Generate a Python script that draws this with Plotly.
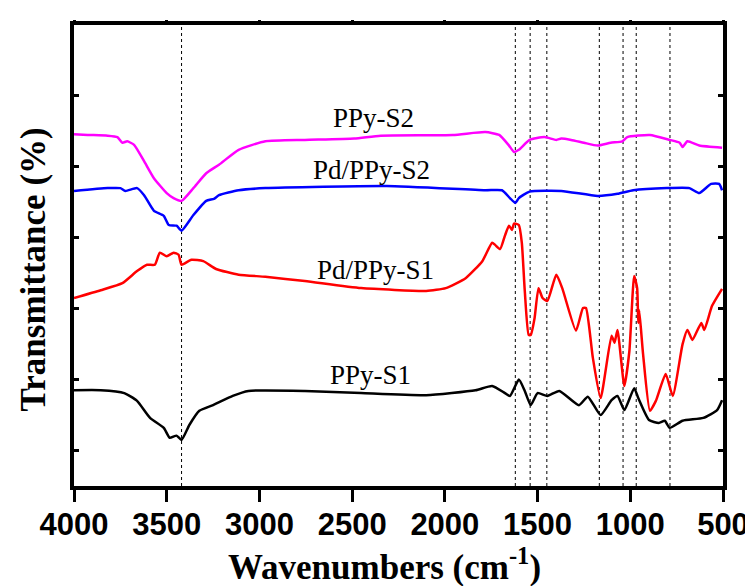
import plotly.graph_objects as go

# ---- data (wavenumber in cm^-1, transmittance in arbitrary offset units) ----
ppy_s2_wn = [4000, 3926, 3819, 3766, 3739, 3713, 3676, 3622, 3569, 3500, 3463, 3420, 3356, 3287, 3218, 3112, 2968,
             2755, 2489, 2346, 1957, 1782, 1707, 1654, 1627, 1601, 1543, 1463, 1399, 1372, 1319, 1250, 1176, 1106,
             1043, 1016, 894, 787, 734, 718, 692, 628, 505]
ppy_s2_t = [4.96, 4.95, 4.94, 4.92, 4.84, 4.86, 4.81, 4.58, 4.34, 4.13, 4.06, 4.02, 4.20, 4.41, 4.53, 4.74, 4.86,
            4.88, 4.90, 4.94, 4.95, 4.99, 4.95, 4.80, 4.71, 4.74, 4.88, 4.92, 4.88, 4.90, 4.88, 4.84, 4.80, 4.84,
            4.86, 4.92, 4.95, 4.88, 4.84, 4.78, 4.86, 4.80, 4.77]

pd_ppy_s2_wn = [4000, 3819, 3750, 3723, 3660, 3622, 3569, 3516, 3489, 3447, 3420, 3356, 3287, 3245, 3218, 3112, 2968,
                2314, 1782, 1692, 1649, 1620, 1601, 1543, 1372, 1176, 1069, 984, 803, 681, 628, 564, 521, 505]
pd_ppy_s2_t = [4.16, 4.20, 4.20, 4.16, 4.20, 4.10, 3.88, 3.81, 3.68, 3.67, 3.60, 3.82, 4.02, 4.05, 4.10, 4.17, 4.20,
               4.23, 4.17, 4.17, 4.06, 3.99, 4.06, 4.15, 4.16, 4.09, 4.12, 4.17, 4.20, 4.20, 4.13, 4.26, 4.26, 4.17]

pd_ppy_s1_wn = [4000, 3856, 3739, 3660, 3606, 3564, 3537, 3500, 3463, 3436, 3420, 3367, 3303, 3234, 3112, 2968, 2755,
                2452, 2101, 1995, 1888, 1798, 1745, 1729, 1702, 1676, 1654, 1638, 1627, 1601, 1585, 1569, 1548, 1537,
                1516, 1495, 1473, 1447, 1399, 1367, 1293, 1255, 1239, 1202, 1160, 1101, 1085, 1069, 1032, 1005, 979,
                963, 957, 952, 931, 894, 862, 809, 771, 718, 692, 665, 617, 601, 559, 505]
pd_ppy_s1_t = [2.65, 2.76, 2.86, 3.03, 3.12, 3.12, 3.29, 3.24, 3.29, 3.26, 3.12, 3.19, 3.17, 3.06, 2.98, 2.95, 2.89,
               2.79, 2.75, 2.79, 2.93, 3.17, 3.43, 3.40, 3.34, 3.53, 3.67, 3.61, 3.70, 3.68, 3.43, 2.75, 2.13, 2.13,
               2.37, 2.79, 2.65, 2.61, 2.98, 2.79, 2.19, 2.51, 2.51, 1.81, 1.24, 2.12, 2.02, 2.20, 1.41, 1.90, 2.96,
               2.79, 2.30, 2.48, 1.86, 1.06, 1.20, 1.58, 1.27, 2.00, 2.20, 2.06, 2.30, 2.20, 2.54, 2.78]

ppy_s1_wn = [4000, 3856, 3729, 3660, 3590, 3516, 3484, 3447, 3420, 3378, 3324, 3250, 3144, 3059, 2755, 2452, 2101,
             1835, 1745, 1676, 1649, 1601, 1569, 1537, 1500, 1447, 1383, 1277, 1229, 1160, 1101, 1069, 1032, 979,
             957, 899, 846, 814, 787, 718, 606, 532, 505]
ppy_s1_t = [1.35, 1.35, 1.31, 1.20, 0.96, 0.82, 0.68, 0.71, 0.65, 0.86, 1.06, 1.14, 1.27, 1.34, 1.34, 1.31, 1.28,
            1.35, 1.41, 1.31, 1.27, 1.50, 1.34, 1.14, 1.31, 1.27, 1.34, 1.14, 1.26, 1.00, 1.21, 1.27, 1.07, 1.38,
            1.24, 0.93, 0.89, 0.92, 0.82, 0.92, 0.96, 1.07, 1.21]

peak_lines = [3420, 1620, 1540, 1450, 1167, 1039, 968, 786]

labels = ["PPy-S2", "Pd/PPy-S2", "Pd/PPy-S1", "PPy-S1"]
label_pos_wn = [2383, 2394, 2372, 2399]
label_pos_t = [5.19, 4.46, 3.05, 1.57]

x_ticks = [4000, 3500, 3000, 2500, 2000, 1500, 1000, 500]

# ---- figure ----
fig = go.Figure()
series = [
    (ppy_s2_wn, ppy_s2_t, "#FF00FF"),
    (pd_ppy_s2_wn, pd_ppy_s2_t, "#0000FF"),
    (pd_ppy_s1_wn, pd_ppy_s1_t, "#FF0000"),
    (ppy_s1_wn, ppy_s1_t, "#000000"),
]
for (wx, ty, col), name in zip(series, labels):
    fig.add_trace(go.Scatter(x=wx, y=ty, mode="lines", name=name,
                             line=dict(color=col, width=2.5, shape="spline", smoothing=0.5),
                             showlegend=False))

# dummy trace for top axis ticks
fig.add_trace(go.Scatter(x=[None], y=[None], xaxis="x2", showlegend=False, hoverinfo="skip"))

for wn in peak_lines:
    fig.add_shape(type="line", x0=wn, x1=wn, xref="x", y0=0, y1=1, yref="paper",
                  line=dict(color="black", width=1, dash="dot"), layer="below")

for txt, lx, ly in zip(labels, label_pos_wn, label_pos_t):
    fig.add_annotation(x=lx, y=ly, text=txt, showarrow=False,
                       font=dict(family="Liberation Serif", size=27, color="black"))

fig.add_annotation(xref="paper", yref="paper", x=0.478, y=-0.17, text="Wavenumbers (cm<sup>-1</sup>)",
                   showarrow=False, yanchor="middle",
                   font=dict(family="Liberation Serif", size=35, color="black", weight="bold"))
fig.add_annotation(xref="paper", yref="paper", x=-0.063, y=0.47, text="Transmittance (%)",
                   showarrow=False, textangle=-90, xanchor="center", yanchor="middle",
                   font=dict(family="Liberation Serif", size=35, color="black", weight="bold"))

fig.update_layout(
    width=753, height=586,
    margin=dict(l=66, r=30, t=17, b=108),
    plot_bgcolor="white", paper_bgcolor="white",
    xaxis=dict(range=[4000, 500], tickvals=x_ticks, ticks="outside", ticklen=12, tickwidth=3,
               tickcolor="black", showline=True, linecolor="black", linewidth=3.5, mirror=True,
               showgrid=False, zeroline=False, ticklabelstandoff=-4,
               tickfont=dict(family="Liberation Sans", size=31, color="black", weight="bold")),
    xaxis2=dict(range=[4000, 500], overlaying="x", side="top", tickvals=x_ticks, ticks="outside",
                ticklen=4, tickwidth=2.5, tickcolor="black", showticklabels=False, showgrid=False,
                zeroline=False, showline=False),
    yaxis=dict(range=[0, 6.5], tickvals=[0.5, 1.5, 2.5, 3.5, 4.5, 5.5], ticks="inside", ticklen=5,
               tickwidth=2.5, tickcolor="black", showticklabels=False, showline=True, linecolor="black",
               linewidth=3.5, mirror="ticks", showgrid=False, zeroline=False),
)

fig.write_html("out.html")
